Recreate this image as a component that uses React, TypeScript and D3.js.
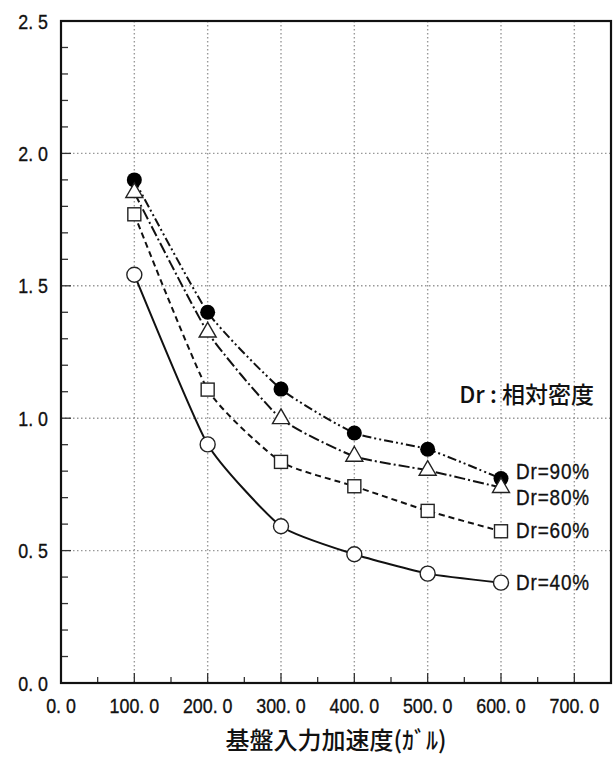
import React from "react";
import * as d3 from "d3";

const xValues = [100, 200, 300, 400, 500, 600];
const dr90 = [1.9, 1.4, 1.11, 0.944, 0.883, 0.772];
const dr80 = [1.852, 1.325, 0.998, 0.856, 0.803, 0.738];
const dr60 = [1.77, 1.108, 0.835, 0.743, 0.65, 0.573];
const dr40 = [1.542, 0.901, 0.592, 0.486, 0.413, 0.379];
const seriesLabels = ["Dr=90%", "Dr=80%", "Dr=60%", "Dr=40%"];
const xTicks = [0, 100, 200, 300, 400, 500, 600, 700];
const xTickLabels = ["0. 0", "100. 0", "200. 0", "300. 0", "400. 0", "500. 0", "600. 0", "700. 0"];
const yTicks = [0, 0.5, 1.0, 1.5, 2.0, 2.5];
const yTickLabels = ["0. 0", "0. 5", "1. 0", "1. 5", "2. 0", "2. 5"];
const xTitle = "基盤入力加速度(ｶﾞﾙ)";
const legendTitle = "Dr : 相対密度";

const W = 614;
const H = 757;
const left = 61;
const right = 611;
const top = 21;
const bottom = 683;

const CJK = "'Noto Sans CJK JP', 'Noto Sans', sans-serif";
const NUM = "'Liberation Sans', 'DejaVu Sans', sans-serif";

export default function App() {
  const x = d3.scaleLinear().domain([0, 750]).range([left, right]);
  const y = d3.scaleLinear().domain([0, 2.5]).range([bottom, top]);
  const line = d3
    .line<number>()
    .x((_, i) => x(xValues[i]))
    .y((d) => y(d))
    .curve(d3.curveCardinal.tension(0.5));

  const series = [
    { data: dr90, dash: "9,3,2,3,2,3", marker: "filled" },
    { data: dr80, dash: "11,3,2,3", marker: "triangle" },
    { data: dr60, dash: "6,4", marker: "square" },
    { data: dr40, dash: "", marker: "circle" },
  ];
  const labelY = [471, 497, 530, 582];

  const minorX = d3.range(50, 750, 100);
  const minorY = d3
    .range(1, 25)
    .filter((k) => k % 5 !== 0)
    .map((k) => k / 10);

  const marker = (type: string, cx: number, cy: number, key: string) => {
    if (type === "filled") return <circle key={key} cx={cx} cy={cy} r={7.5} fill="#000" />;
    if (type === "circle")
      return <circle key={key} cx={cx} cy={cy} r={7.5} fill="#fff" stroke="#222" strokeWidth={1.4} />;
    if (type === "square")
      return (
        <rect key={key} x={cx - 6.5} y={cy - 6.5} width={13} height={13} fill="#fff" stroke="#222" strokeWidth={1.4} />
      );
    const s = 17;
    const h = s * 0.866;
    const p = `M${cx},${cy - (2 * h) / 3}L${cx + s / 2},${cy + h / 3}L${cx - s / 2},${cy + h / 3}Z`;
    return <path key={key} d={p} fill="#fff" stroke="#222" strokeWidth={1.4} />;
  };

  const numText = (
    key: string,
    tx: number,
    ty: number,
    s: string,
    anchor: string,
    size: number,
    sx: number,
    ls = 0
  ) => (
    <text
      key={key}
      transform={`translate(${tx},${ty}) scale(${sx},1)`}
      dy="0.36em"
      fontSize={size}
      fontFamily={NUM}
      textAnchor={anchor}
      letterSpacing={ls}
      fill="#111"
      stroke="#111"
      strokeWidth={0.35}
    >
      {s}
    </text>
  );

  return (
    <svg width={W} height={H} style={{ position: "absolute", left: 0, top: 0, background: "#fff" }}>
      <rect x={0} y={0} width={W} height={H} fill="#fff" />
      {/* grid */}
      {xTicks
        .filter((t) => t > 0)
        .map((t) => (
          <line key={"gx" + t} x1={x(t)} x2={x(t)} y1={top} y2={bottom} stroke="#999" strokeWidth={1.4} strokeDasharray="1.5,2.5" />
        ))}
      {yTicks
        .filter((t) => t > 0 && t < 2.5)
        .map((t) => (
          <line key={"gy" + t} x1={left} x2={right} y1={y(t)} y2={y(t)} stroke="#999" strokeWidth={1.4} strokeDasharray="1.5,2.5" />
        ))}
      {/* ticks */}
      {xTicks
        .filter((t) => t > 0)
        .map((t) => (
          <line key={"tx" + t} x1={x(t)} x2={x(t)} y1={bottom} y2={bottom - 10} stroke="#333" strokeWidth={1.3} />
        ))}
      {minorX.map((t) => (
        <line key={"mx" + t} x1={x(t)} x2={x(t)} y1={bottom} y2={bottom - 6} stroke="#333" strokeWidth={1.3} />
      ))}
      {yTicks
        .filter((t) => t > 0 && t < 2.5)
        .map((t) => (
          <line key={"ty" + t} x1={left} x2={left + 10} y1={y(t)} y2={y(t)} stroke="#333" strokeWidth={1.3} />
        ))}
      {minorY.map((t) => (
        <line key={"my" + t} x1={left} x2={left + 7} y1={y(t)} y2={y(t)} stroke="#333" strokeWidth={1.3} />
      ))}
      {/* frame */}
      <rect x={left} y={top} width={right - left} height={bottom - top} fill="none" stroke="#111" strokeWidth={2.2} />
      {/* series */}
      {series.map((s, i) => (
        <path
          key={"l" + i}
          d={line(s.data) || ""}
          fill="none"
          stroke="#111"
          strokeWidth={2}
          strokeDasharray={s.dash || undefined}
        />
      ))}
      {series.map((s, i) => s.data.map((v, j) => marker(s.marker, x(xValues[j]), y(v), `m${i}-${j}`)))}
      {/* series labels */}
      {seriesLabels.map((l, i) => numText("sl" + i, 516, labelY[i], l, "start", 22, 0.86, 1))}
      <text x={594} y={395} dy="0.36em" fontSize={23} fontFamily={CJK} fontWeight={500} textAnchor="end" fill="#111">
        {legendTitle}
      </text>
      {/* tick labels */}
      {yTicks.map((t, i) => numText("yl" + t, 48, y(t), yTickLabels[i], "end", 21, 0.85))}
      {xTicks.map((t, i) => numText("xl" + t, x(t), 705, xTickLabels[i], "middle", 21, 0.85))}
      <text
        x={(left + right) / 2}
        y={740}
        dy="0.36em"
        fontSize={24}
        fontFamily={CJK}
        fontWeight={500}
        textAnchor="middle"
        fill="#111"
      >
        {xTitle}
      </text>
    </svg>
  );
}
